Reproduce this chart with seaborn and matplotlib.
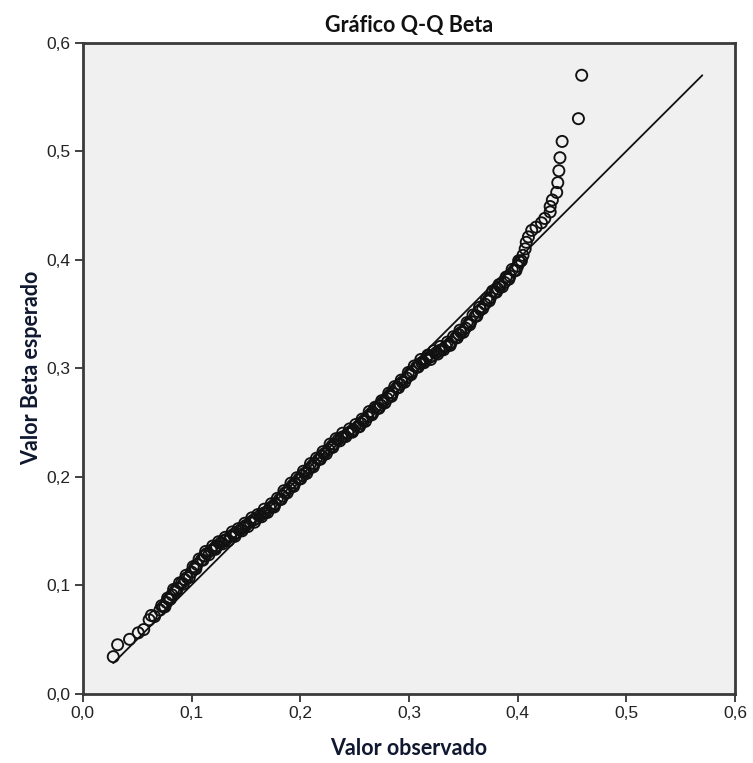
import matplotlib
matplotlib.use("Agg")
import matplotlib.pyplot as plt
import seaborn as sns
import pandas as pd
from matplotlib.ticker import FuncFormatter, FixedLocator

# ---- data ----
observed = [
    0.028, 0.032, 0.043, 0.051, 0.056, 0.061, 0.063, 0.066, 0.071, 0.074,
    0.077, 0.079, 0.082, 0.085, 0.087, 0.091, 0.094, 0.096, 0.100, 0.103,
    0.105, 0.109, 0.112, 0.114, 0.118, 0.121, 0.123, 0.127, 0.130, 0.132,
    0.136, 0.139, 0.141, 0.145, 0.148, 0.150, 0.154, 0.157, 0.159, 0.163,
    0.166, 0.168, 0.172, 0.175, 0.177, 0.181, 0.184, 0.186, 0.190, 0.193,
    0.195, 0.199, 0.202, 0.204, 0.208, 0.211, 0.213, 0.217, 0.220, 0.222,
    0.226, 0.229, 0.231, 0.235, 0.238, 0.240, 0.244, 0.247, 0.249, 0.253,
    0.256, 0.258, 0.262, 0.265, 0.267, 0.271, 0.274, 0.276, 0.280, 0.283,
    0.285, 0.289, 0.292, 0.294, 0.298, 0.301, 0.303, 0.307, 0.310, 0.312,
    0.316, 0.319, 0.321, 0.325, 0.328, 0.330, 0.334, 0.337, 0.339, 0.343,
    0.346, 0.348, 0.352, 0.355, 0.357, 0.361, 0.364, 0.366, 0.370, 0.373,
    0.375, 0.379, 0.382, 0.384, 0.388, 0.391, 0.393, 0.397, 0.400, 0.402,
    0.405, 0.407, 0.408, 0.410, 0.413, 0.417, 0.422, 0.425, 0.430, 0.430,
    0.432, 0.436, 0.437, 0.438, 0.439, 0.441, 0.456, 0.459,
]
expected = [
    0.034, 0.045, 0.050, 0.056, 0.059, 0.068, 0.072, 0.071, 0.077, 0.080,
    0.084, 0.087, 0.091, 0.095, 0.097, 0.102, 0.105, 0.107, 0.112, 0.116,
    0.119, 0.123, 0.127, 0.129, 0.132, 0.134, 0.136, 0.139, 0.141, 0.142,
    0.145, 0.147, 0.148, 0.151, 0.153, 0.155, 0.158, 0.160, 0.161, 0.164,
    0.166, 0.167, 0.171, 0.173, 0.175, 0.179, 0.182, 0.185, 0.189, 0.192,
    0.194, 0.198, 0.201, 0.203, 0.207, 0.210, 0.212, 0.216, 0.219, 0.221,
    0.225, 0.228, 0.230, 0.234, 0.236, 0.237, 0.240, 0.242, 0.243, 0.246,
    0.249, 0.251, 0.255, 0.258, 0.259, 0.263, 0.266, 0.268, 0.272, 0.275,
    0.277, 0.282, 0.285, 0.287, 0.291, 0.295, 0.297, 0.301, 0.304, 0.305,
    0.308, 0.310, 0.311, 0.314, 0.316, 0.317, 0.320, 0.322, 0.324, 0.328,
    0.331, 0.333, 0.337, 0.341, 0.343, 0.348, 0.352, 0.354, 0.359, 0.363,
    0.365, 0.370, 0.373, 0.375, 0.379, 0.382, 0.385, 0.390, 0.394, 0.398,
    0.404, 0.410, 0.416, 0.421, 0.427, 0.430, 0.434, 0.438, 0.444, 0.449,
    0.455, 0.462, 0.471, 0.482, 0.494, 0.509, 0.530, 0.570,
]
# further points inside the dense middle band
observed_band = [
    0.0725, 0.0755, 0.078, 0.0805, 0.0835, 0.086, 0.089, 0.0925, 0.095, 0.098,
    0.1015, 0.104, 0.107, 0.1105, 0.113, 0.116, 0.1195, 0.122, 0.125, 0.1285,
    0.131, 0.134, 0.1375, 0.140, 0.143, 0.1465, 0.149, 0.152, 0.1555, 0.158,
    0.161, 0.1645, 0.167, 0.170, 0.1735, 0.176, 0.179, 0.1825, 0.185, 0.188,
    0.1915, 0.194, 0.197, 0.2005, 0.203, 0.206, 0.2095, 0.212, 0.215, 0.2185,
    0.221, 0.224, 0.2275, 0.230, 0.233, 0.2365, 0.239, 0.242, 0.2455, 0.248,
    0.251, 0.2545, 0.257, 0.260, 0.2635, 0.266, 0.269, 0.2725, 0.275, 0.278,
    0.2815, 0.284, 0.287, 0.2905, 0.293, 0.296, 0.2995, 0.302, 0.305, 0.3085,
    0.311, 0.314, 0.3175, 0.320, 0.323, 0.3265, 0.329, 0.332, 0.3355, 0.338,
    0.341, 0.3445, 0.347, 0.350, 0.3535, 0.356, 0.359, 0.3625, 0.365, 0.368,
    0.3715, 0.374, 0.377, 0.3805, 0.383, 0.386, 0.3895, 0.392, 0.395, 0.3985,
    0.401, 0.4035,
]
expected_band = [
    0.081, 0.080, 0.088, 0.087, 0.096, 0.094, 0.102, 0.101, 0.109, 0.107,
    0.117, 0.115, 0.124, 0.123, 0.131, 0.128, 0.136, 0.133, 0.140, 0.138,
    0.144, 0.141, 0.149, 0.145, 0.152, 0.150, 0.157, 0.154, 0.162, 0.158,
    0.165, 0.163, 0.170, 0.167, 0.175, 0.172, 0.180, 0.179, 0.187, 0.185,
    0.194, 0.191, 0.199, 0.198, 0.205, 0.203, 0.212, 0.209, 0.217, 0.216,
    0.223, 0.221, 0.230, 0.227, 0.235, 0.233, 0.240, 0.237, 0.244, 0.241,
    0.248, 0.246, 0.253, 0.251, 0.260, 0.257, 0.264, 0.263, 0.270, 0.268,
    0.277, 0.274, 0.283, 0.282, 0.289, 0.287, 0.296, 0.294, 0.302, 0.301,
    0.308, 0.305, 0.312, 0.308, 0.316, 0.313, 0.320, 0.317, 0.324, 0.321,
    0.329, 0.328, 0.335, 0.333, 0.342, 0.340, 0.349, 0.348, 0.356, 0.355,
    0.364, 0.362, 0.371, 0.370, 0.377, 0.375, 0.384, 0.382, 0.391, 0.390,
    0.399, 0.399,
]
ref_line_x = [0.028, 0.570]
ref_line_y = [0.028, 0.570]
ticks = [0.0, 0.1, 0.2, 0.3, 0.4, 0.5, 0.6]
title = "Gráfico Q-Q Beta"
xlabel = "Valor observado"
ylabel = "Valor Beta esperado"

assert len(observed) == len(expected)
assert len(observed_band) == len(expected_band)
df = pd.DataFrame({"obs": observed + observed_band,
                   "exp": expected + expected_band})
ref = pd.DataFrame({"x": ref_line_x, "y": ref_line_y})

sns.set_theme(style="white")
plt.rcParams["font.family"] = ["Liberation Sans", "DejaVu Sans"]

fig = plt.figure(figsize=(7.53, 7.63), dpi=100)
ax = fig.add_axes([0.110, 0.091, 0.866, 0.853])
ax.set_facecolor("#f0f0f0")

sns.lineplot(data=ref, x="x", y="y", ax=ax, color="#111111", linewidth=1.3)
sns.scatterplot(data=df, x="obs", y="exp", ax=ax, marker="o", s=64,
                facecolor="none", edgecolor="#111111", linewidth=1.35, zorder=3)

ax.set_xlim(0, 0.6)
ax.set_ylim(0, 0.6)
ax.xaxis.set_major_locator(FixedLocator(ticks))
ax.yaxis.set_major_locator(FixedLocator(ticks))
fmt = FuncFormatter(lambda v, p: f"{v:.1f}".replace(".", ","))
ax.xaxis.set_major_formatter(fmt)
ax.yaxis.set_major_formatter(fmt)
ax.tick_params(axis="both", which="major", direction="out", length=6, width=1.3,
               color="#333333", labelsize=12.5, labelcolor="#222222",
               bottom=True, left=True, top=False, right=False, pad=3)

for s in ax.spines.values():
    s.set_color("#3a3a3a")
    s.set_linewidth(2)

tfont = ["Lato", "DejaVu Sans"]
ax.set_title(title, fontsize=15.5, fontweight="bold", family=tfont, color="#111111", pad=8)
ax.set_xlabel(xlabel, fontsize=15.5, fontweight="bold", family=tfont, color="#101830", labelpad=12)
ax.set_ylabel(ylabel, fontsize=15.5, fontweight="bold", family=tfont, color="#101830", labelpad=3)

fig.savefig("out.png", dpi=100, facecolor="white")
